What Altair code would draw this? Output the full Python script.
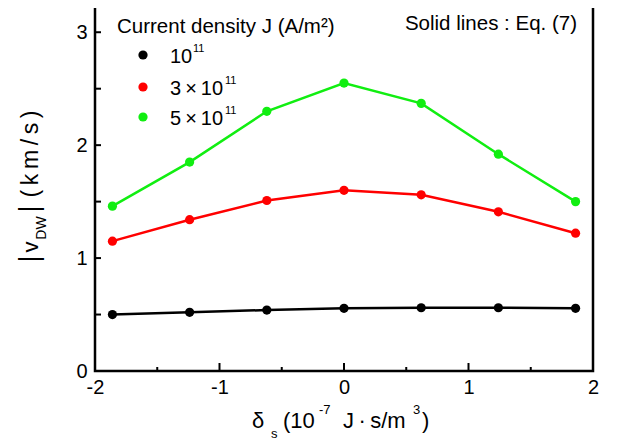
import altair as alt
import pandas as pd

# ---- data ----
delta_s = [-1.86, -1.24, -0.62, 0.0, 0.62, 1.24, 1.86]
v_1e11 = [0.50, 0.52, 0.54, 0.555, 0.56, 0.56, 0.555]
v_3e11 = [1.15, 1.34, 1.51, 1.60, 1.56, 1.41, 1.22]
v_5e11 = [1.46, 1.85, 2.30, 2.55, 2.37, 1.92, 1.50]
series_keys = ["1e11", "3e11", "5e11"]
series_base = ["10", "3\u2009×\u200910", "5\u2009×\u200910"]
series_exp = ["11", "11", "11"]
series_colors = ["#000000", "#ff0000", "#11ee11"]

x_major = [-2, -1, 0, 1, 2]
x_minor = [-1.5, -0.5, 0.5, 1.5]
y_ticks = [0.5, 1.0, 1.5, 2.0, 2.5, 3.0]

W, H = 498, 367
FONT = "Liberation Sans"

rows = []
for key, vals in zip(series_keys, [v_1e11, v_3e11, v_5e11]):
    for x, v in zip(delta_s, vals):
        rows.append({"x": x, "v": v, "J": key})
df = pd.DataFrame(rows)

xs = alt.Scale(domain=[-2, 2], nice=False, zero=False)
ys = alt.Scale(domain=[0, 3.25], nice=False, zero=False)
cs = alt.Scale(domain=series_keys, range=series_colors)

base = alt.Chart(df).encode(
    x=alt.X("x:Q", scale=xs,
            axis=alt.Axis(values=x_major, title=None, labelFlush=False,
                          labelPadding=6, labelExpr="'' + datum.value")),
    y=alt.Y("v:Q", scale=ys,
            axis=alt.Axis(values=[0, 1, 2, 3], title=None, labelPadding=8,
                          labelExpr="'' + datum.value")),
    color=alt.Color("J:N", scale=cs, legend=None),
)
lines = base.mark_line(strokeWidth=2.5)
points = base.mark_circle(size=85, opacity=1)

# inward ticks
xt_major = alt.Chart(pd.DataFrame({"t": x_major[1:-1]})).mark_rule(color="black", strokeWidth=2).encode(
    x=alt.X("t:Q", scale=xs), y=alt.value(H), y2=alt.value(H - 8))
xt_minor = alt.Chart(pd.DataFrame({"t": x_minor})).mark_rule(color="black", strokeWidth=2).encode(
    x=alt.X("t:Q", scale=xs), y=alt.value(H), y2=alt.value(H - 4))
yt = alt.Chart(pd.DataFrame({"t": y_ticks})).mark_rule(color="black", strokeWidth=2).encode(
    y=alt.Y("t:Q", scale=ys), x=alt.value(0), x2=alt.value(6))

dummy = pd.DataFrame({"a": [0]})

def txt(text, x, y, size, align="left", baseline="alphabetic", angle=0):
    return alt.Chart(dummy).mark_text(
        text=text, font=FONT, fontSize=size, align=align, baseline=baseline,
        angle=angle, color="black").encode(x=alt.value(x), y=alt.value(y))

# y title: |v_DW| (km/s)  (rotated, centred pieces)
ytitle = [
    txt("|", -65, 255, 27, align="center", baseline="middle", angle=270),
    txt("v", -64, 243, 22, align="center", baseline="middle", angle=270),
    txt("DW", -53, 224, 14, align="center", baseline="middle", angle=270),
    txt("|", -65, 205, 27, align="center", baseline="middle", angle=270),
    txt("(\u2009k\u2009m\u2009/\u2009s\u2009)", -64, 150, 23, align="center",
        baseline="middle", angle=270),
]
# x title: δ_s (10^-7 J·s/m^3)
xtitle = [
    txt("δ", 157, 424, 22),
    txt("s", 176, 434, 13),
    txt("(10", 188, 424, 22),
    txt("-7", 224, 410, 13),
    txt("J\u2009·\u2009s/m", 248, 424, 22),
    txt("3", 318, 410, 13),
    txt(")", 327, 424, 22),
]

legend = [txt("Current density J (A/m²)", 22, 29, 20.5)]
sup_x = [98, 130, 130]
for b, e, col, yy, sx in zip(series_base, series_exp, series_colors, [51, 83, 113], sup_x):
    legend.append(alt.Chart(dummy).mark_circle(size=85, color=col, opacity=1).encode(
        x=alt.value(48), y=alt.value(yy)))
    legend.append(txt(b, 75, yy + 8, 20))
    legend.append(txt(e, sx, yy - 3, 11))
legend.append(txt("Solid lines : Eq. (7)", 482, 26, 20.5, align="right"))

chart = alt.layer(lines, points, xt_major, xt_minor, yt, *ytitle, *xtitle, *legend).properties(
    width=W, height=H,
    background="white",
    autosize=alt.AutoSizeParams(type="none"),
    padding={"left": 87, "top": -4, "right": 20, "bottom": 70},
).configure_view(
    stroke="black", strokeWidth=2.5
).configure_axis(
    domain=False, ticks=False, grid=False,
    labelFont=FONT, labelFontSize=20, labelColor="black",
)

chart.save("out.html", embed_options={"renderer": "svg", "actions": False})
